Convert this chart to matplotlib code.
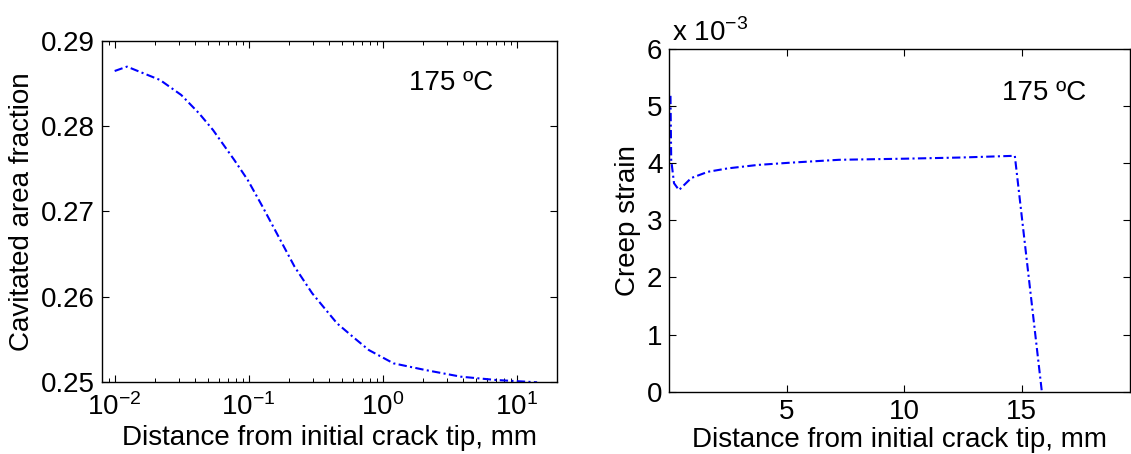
import matplotlib
matplotlib.use("Agg")
from matplotlib import pyplot as plt
from matplotlib.ticker import FuncFormatter, LogLocator, NullFormatter

plt.rcParams['font.family'] = ['Liberation Sans', 'DejaVu Sans']
plt.rcParams['font.size'] = 20

# left panel: cavitated area fraction vs distance (log x)
dist_left = [0.01, 0.01236, 0.0218, 0.0314, 0.0426, 0.0542, 0.0781, 0.0984, 0.127,
             0.162, 0.220, 0.298, 0.456, 0.618, 0.788, 1.205, 2.08, 3.83, 7.03, 14.2]
cav_frac = [0.28645, 0.28696, 0.28540, 0.28364, 0.28150, 0.27954, 0.27603, 0.27369,
            0.27056, 0.26745, 0.26354, 0.26042, 0.25691, 0.25515, 0.25378, 0.25222,
            0.25144, 0.25066, 0.25027, 0.25000]

# right panel: creep strain vs distance
dist_right = [0.05, 0.08, 0.2, 0.41, 0.93, 1.64, 2.49, 3.76, 5.17, 7.22, 10.09,
              12.4, 14.7, 15.85]
creep = [5.18e-3, 4.06e-3, 3.65e-3, 3.53e-3, 3.74e-3, 3.85e-3, 3.91e-3, 3.97e-3,
         4.01e-3, 4.06e-3, 4.08e-3, 4.10e-3, 4.13e-3, 0.0]

label_text = '175 ºC'
xlabel = 'Distance from initial crack tip, mm'

fig = plt.figure(figsize=(11.31, 4.54), dpi=100)
ax1 = fig.add_axes([0.0899, 0.1579, 0.4026, 0.7525])
ax2 = fig.add_axes([0.5918, 0.1372, 0.4073, 0.7549])

dash = (4, 1.6, 1, 1.6)

ax1.plot(dist_left, cav_frac, color='blue', lw=1.5, linestyle='-.', dashes=dash)
ax1.set_xscale('log')
ax1.set_xlim(0.008, 20)
ax1.set_ylim(0.25, 0.29)
ax1.set_yticks([0.25, 0.26, 0.27, 0.28, 0.29])
ax1.set_yticklabels(['0.25', '0.26', '0.27', '0.28', '0.29'])
ax1.xaxis.set_minor_locator(LogLocator(base=10, subs=range(2, 10), numticks=20))
ax1.xaxis.set_minor_formatter(NullFormatter())
ax1.set_ylabel('Cavitated area fraction', fontsize=20, labelpad=4)
ax1.set_xlabel(xlabel, fontsize=20, labelpad=3)
ax1.text(0.767, 0.876, label_text, transform=ax1.transAxes, ha='center', va='center',
         fontsize=20)

ax2.plot(dist_right, creep, color='blue', lw=1.5, linestyle='-.', dashes=dash)
ax2.set_xlim(0, 19.6)
ax2.set_ylim(0, 6e-3)
ax2.set_xticks([5, 10, 15])
ax2.set_yticks([i * 1e-3 for i in range(7)])
ax2.yaxis.set_major_formatter(FuncFormatter(lambda v, p: '%d' % round(v / 1e-3)))
ax2.set_ylabel('Creep strain', fontsize=20, labelpad=4)
ax2.set_xlabel(xlabel, fontsize=20, labelpad=2)
ax2.text(0.813, 0.872, label_text, transform=ax2.transAxes, ha='center', va='center',
         fontsize=20)
ax2.text(0.005, 1.005, r'x 10$^{\mathdefault{-3}}$', transform=ax2.transAxes,
         ha='left', va='bottom', fontsize=20)

for ax in (ax1, ax2):
    ax.tick_params(which='major', direction='in', length=5, width=0.8,
                   top=True, right=True, labelsize=20, pad=5)
    ax.tick_params(which='minor', direction='in', length=3, width=0.7,
                   top=True, right=True)
    for s in ax.spines.values():
        s.set_linewidth(1.0)
ax1.tick_params(axis='x', which='major', pad=8)

plt.savefig('out.png', dpi=100)
